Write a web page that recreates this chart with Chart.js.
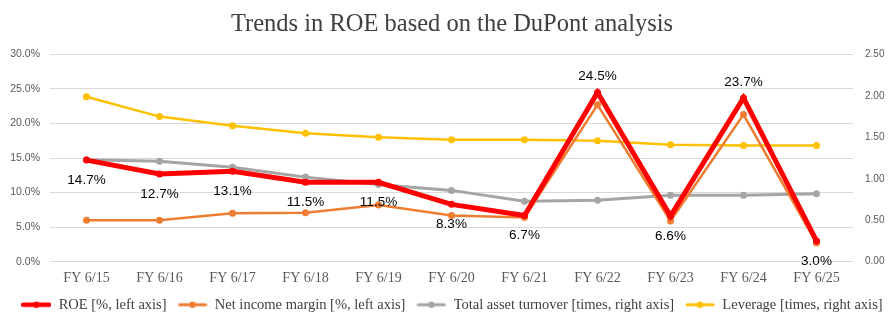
<!DOCTYPE html>
<html><head><meta charset="utf-8">
<script src="https://cdn.jsdelivr.net/npm/chart.js@4.4.0/dist/chart.umd.min.js"></script>
<style>html,body{margin:0;padding:0;background:#fff}#wrap{width:896px;height:326px}</style>
</head><body><div id="wrap"><canvas id="c" width="896" height="326"></canvas></div>
<script>
const categories = ["FY 6/15","FY 6/16","FY 6/17","FY 6/18","FY 6/19","FY 6/20","FY 6/21","FY 6/22","FY 6/23","FY 6/24","FY 6/25"];
const roe = [14.7,12.7,13.1,11.5,11.5,8.3,6.7,24.5,6.6,23.7,3.0];
const netMargin = [6.0,6.0,7.0,7.1,8.2,6.7,6.4,22.7,5.9,21.3,2.7];
const assetTurnover = [1.23,1.21,1.14,1.02,0.93,0.86,0.73,0.74,0.80,0.80,0.82];
const leverage = [1.99,1.75,1.64,1.55,1.50,1.47,1.47,1.46,1.41,1.40,1.40];
const roeLabelAbove = [false,false,false,false,false,false,false,true,false,true,false];

function legendIcon(color, lw){
  const c=document.createElement('canvas'); c.width=30; c.height=10;
  const g=c.getContext('2d');
  g.strokeStyle=color; g.lineWidth=lw; g.lineCap='round';
  g.beginPath(); g.moveTo(2,5); g.lineTo(28,5); g.stroke();
  g.fillStyle=color; g.beginPath(); g.arc(15,5,3.2,0,Math.PI*2); g.fill();
  return c;
}
const colors = {roe:'#FF0000', nm:'#ED7D31', at:'#A5A5A5', lev:'#FFC000'};

const labelPlugin = {
  id:'roeLabels',
  afterDatasetsDraw(chart){
    const meta=chart.getDatasetMeta(0); const ctx=chart.ctx;
    ctx.save(); ctx.font='13.5px "Liberation Sans", Arial, sans-serif';
    ctx.fillStyle='#000'; ctx.textAlign='center'; ctx.textBaseline='middle';
    meta.data.forEach((p,i)=>{
      const y = roeLabelAbove[i] ? p.y-16 : p.y+20;
      ctx.fillText(roe[i].toFixed(1)+'%', p.x, y);
    });
    ctx.restore();
  }
};

new Chart(document.getElementById('c'),{
  type:'line',
  data:{labels:categories,datasets:[
    {label:'ROE [%, left axis]',data:roe,borderColor:colors.roe,backgroundColor:colors.roe,borderWidth:5,pointRadius:3.5,pointBorderWidth:0,yAxisID:'y',order:1,icon:legendIcon(colors.roe,4.5)},
    {label:'Net income margin [%, left axis]',data:netMargin,borderColor:colors.nm,backgroundColor:colors.nm,borderWidth:2.5,pointRadius:3.5,pointBorderWidth:0,yAxisID:'y',order:2,icon:legendIcon(colors.nm,3)},
    {label:'Total asset turnover [times, right axis]',data:assetTurnover,borderColor:colors.at,backgroundColor:colors.at,borderWidth:3,pointRadius:3.5,pointBorderWidth:0,yAxisID:'y1',order:3,icon:legendIcon(colors.at,3)},
    {label:'Leverage [times, right axis]',data:leverage,borderColor:colors.lev,backgroundColor:colors.lev,borderWidth:2.5,pointRadius:3.5,pointBorderWidth:0,yAxisID:'y1',order:4,icon:legendIcon(colors.lev,3)}
  ]},
  options:{
    responsive:false,animation:false,
    layout:{padding:{left:8,right:0,top:5,bottom:4}},
    plugins:{
      title:{display:true,text:'Trends in ROE based on the DuPont analysis',color:'#404040',font:{family:'"Liberation Serif", "Times New Roman", serif',size:24.5,weight:'normal'},padding:{top:5,bottom:15}},
      legend:{position:'bottom',labels:{usePointStyle:true,pointStyleWidth:30,boxHeight:10,color:'#404040',font:{family:'"Liberation Serif", serif',size:14.5},padding:11,
        generateLabels(chart){return chart.data.datasets.map((d,i)=>({text:d.label,pointStyle:d.icon,fillStyle:d.borderColor,strokeStyle:d.borderColor,lineWidth:0,datasetIndex:i,fontColor:'#404040'}));}}},
      tooltip:{enabled:false}
    },
    scales:{
      x:{offset:true,grid:{display:false},border:{display:false},ticks:{color:'#595959',font:{family:'"Liberation Serif", serif',size:14},maxRotation:0,padding:0}},
      y:{position:'left',min:0,max:30,ticks:{stepSize:5,color:'#595959',font:{family:'"Liberation Sans", Arial, sans-serif',size:10.5},callback:v=>v.toFixed(1)+'%',padding:10},grid:{color:'#D9D9D9',drawTicks:false},border:{display:false},afterFit(s){s.width=42;}},
      y1:{position:'right',min:0,max:2.5,ticks:{stepSize:0.5,color:'#595959',font:{family:'"Liberation Sans", Arial, sans-serif',size:10},callback:v=>v.toFixed(2),padding:12},grid:{display:false,drawTicks:false},border:{display:false},afterFit(s){s.width=43;}}
    }
  },
  plugins:[labelPlugin]
});
</script></body></html>
